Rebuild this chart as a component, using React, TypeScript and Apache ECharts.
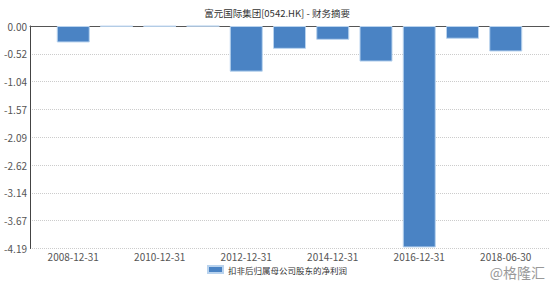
import React, { useEffect, useRef } from "react";
import * as echarts from "echarts";

const categories = [
  "2008-12-31", "2009-12-31", "2010-12-31", "2011-12-31", "2012-12-31",
  "2013-12-31", "2014-12-31", "2015-12-31", "2016-12-31", "2017-12-31", "2018-06-30",
];
const netProfit = [-0.31, -0.01, -0.01, -0.005, -0.86, -0.43, -0.26, -0.67, -4.17, -0.24, -0.48];
const yTickLabels = ["0.00", "-0.52", "-1.04", "-1.57", "-2.09", "-2.62", "-3.14", "-3.67", "-4.19"];
const seriesName = "扣非后归属母公司股东的净利润";
const titleText = "富元国际集团[0542.HK] - 财务摘要";
const watermark = "@格隆汇";

const FONT = "'Noto Sans CJK SC', 'Noto Sans', sans-serif";

export default function App() {
  const ref = useRef<HTMLDivElement>(null);
  useEffect(() => {
    if (!ref.current) return;
    const chart = echarts.init(ref.current, undefined, { renderer: "svg" });
    const yMin = -4.19;
    const interval = 4.19 / 8;
    const xCats = ["", ...categories, ""];
    const xData = [null, ...netProfit, null];
    chart.setOption({
      animation: false,
      textStyle: { fontFamily: FONT },
      title: {
        text: titleText,
        left: "center",
        top: 3,
        textStyle: { fontSize: 9.5, fontWeight: "normal", color: "#333", fontFamily: FONT },
      },
      legend: {
        bottom: 3,
        left: "center",
        icon: "rect",
        itemWidth: 15,
        itemHeight: 7,
        itemGap: 10,
        textStyle: { fontSize: 8.5, color: "#333", fontFamily: FONT },
        data: [seriesName],
      },
      grid: { left: 30, right: 5, top: 26, bottom: 33.5, containLabel: false },
      xAxis: {
        type: "category",
        data: xCats,
        boundaryGap: false,
        axisLine: { show: true, lineStyle: { color: "#555", width: 1 } },
        axisTick: { show: false },
        axisLabel: {
          interval: (index: number) => index % 2 === 1,
          color: "#555",
          fontSize: 10,
          margin: 3,
          fontFamily: FONT,
        },
        splitLine: { show: false },
      },
      yAxis: {
        type: "value",
        min: yMin,
        max: 0,
        interval: interval,
        axisLine: { show: true, lineStyle: { color: "#444", width: 1 } },
        axisTick: { show: false },
        axisLabel: {
          color: "#555",
          fontSize: 10,
          margin: 3,
          fontFamily: FONT,
          formatter: (v: number) => {
            const i = Math.round(-v / interval);
            return yTickLabels[i] ?? "";
          },
        },
        splitLine: { show: true, lineStyle: { color: "#ccc", type: "dotted", width: 1 } },
      },
      graphic: [
        {
          type: "text",
          right: 9,
          top: 265,
          style: { text: watermark, fontSize: 14, fill: "#999", fontFamily: FONT },
        },
      ],
      series: [
        {
          name: seriesName,
          type: "bar",
          data: xData,
          barWidth: 33,
          itemStyle: { color: "#4a83c4", borderColor: "#b9d3ee", borderWidth: 1 },
        },
      ],
    });
    return () => chart.dispose();
  }, []);
  return (
    <div
      ref={ref}
      style={{ position: "fixed", left: 0, top: 0, width: 554, height: 282, background: "#fff" }}
    />
  );
}
